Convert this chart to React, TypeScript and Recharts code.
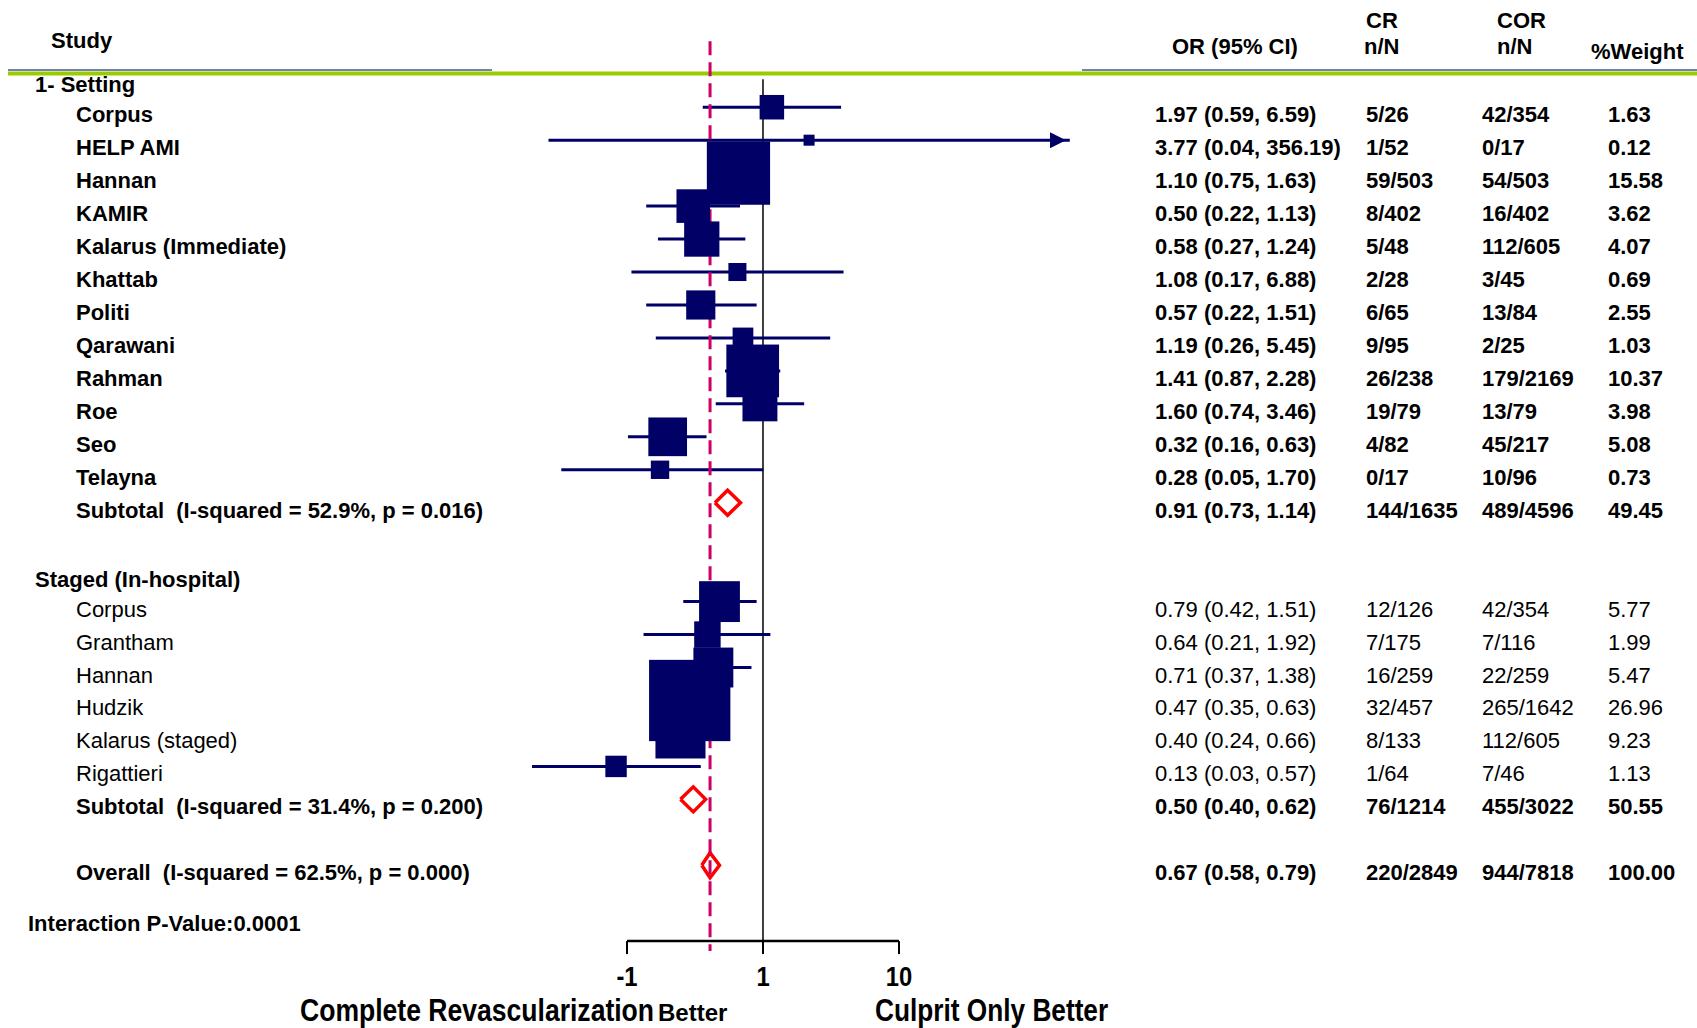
import React from 'react';
import { ComposedChart, Scatter, Line, XAxis, YAxis, ErrorBar, ReferenceLine, Customized } from 'recharts';

// values
const SETTING_STUDIES = ['Corpus', 'HELP AMI', 'Hannan', 'KAMIR', 'Kalarus (Immediate)', 'Khattab', 'Politi', 'Qarawani', 'Rahman', 'Roe', 'Seo', 'Telayna'];
const SETTING_OR = [1.97, 3.77, 1.10, 0.50, 0.58, 1.08, 0.57, 1.19, 1.41, 1.60, 0.32, 0.28];
const SETTING_LO = [0.59, 0.04, 0.75, 0.22, 0.27, 0.17, 0.22, 0.26, 0.87, 0.74, 0.16, 0.05];
const SETTING_HI = [6.59, 356.19, 1.63, 1.13, 1.24, 6.88, 1.51, 5.45, 2.28, 3.46, 0.63, 1.70];
const SETTING_CR = ['5/26', '1/52', '59/503', '8/402', '5/48', '2/28', '6/65', '9/95', '26/238', '19/79', '4/82', '0/17'];
const SETTING_COR = ['42/354', '0/17', '54/503', '16/402', '112/605', '3/45', '13/84', '2/25', '179/2169', '13/79', '45/217', '10/96'];
const SETTING_WEIGHT = [1.63, 0.12, 15.58, 3.62, 4.07, 0.69, 2.55, 1.03, 10.37, 3.98, 5.08, 0.73];

const STAGED_STUDIES = ['Corpus', 'Grantham', 'Hannan', 'Hudzik', 'Kalarus (staged)', 'Rigattieri'];
const STAGED_OR = [0.79, 0.64, 0.71, 0.47, 0.40, 0.13];
const STAGED_LO = [0.42, 0.21, 0.37, 0.35, 0.24, 0.03];
const STAGED_HI = [1.51, 1.92, 1.38, 0.63, 0.66, 0.57];
const STAGED_CR = ['12/126', '7/175', '16/259', '32/457', '8/133', '1/64'];
const STAGED_COR = ['42/354', '7/116', '22/259', '265/1642', '112/605', '7/46'];
const STAGED_WEIGHT = [5.77, 1.99, 5.47, 26.96, 9.23, 1.13];

const GROUP_HEADERS = ['1- Setting', 'Staged (In-hospital)'];
const POOLED_LABELS = [
  'Subtotal  (I-squared = 52.9%, p = 0.016)',
  'Subtotal  (I-squared = 31.4%, p = 0.200)',
  'Overall  (I-squared = 62.5%, p = 0.000)',
];
const POOLED_OR = [0.91, 0.50, 0.67];
const POOLED_LO = [0.73, 0.40, 0.58];
const POOLED_HI = [1.14, 0.62, 0.79];
const POOLED_CR = ['144/1635', '76/1214', '220/2849'];
const POOLED_COR = ['489/4596', '455/3022', '944/7818'];
const POOLED_WEIGHT = [49.45, 50.55, 100.0];

const INTERACTION_NOTE = 'Interaction P-Value:0.0001';
const AXIS_TICK_VALUES = [0.1, 1, 10];
const AXIS_TICK_LABELS = ['-1', '1', '10'];
const NULL_VALUE = 1;

// layout
const W = 1697;
const H = 1028;
const X_DOMAIN: [number, number] = [-2.523, 2.523]; // log10 OR, data panel
const TICK_DOMAIN: [number, number] = [-2.669, 2.228]; // log10, drawn axis
const Y_DOMAIN: [number, number] = [-1, 26.3];
const FONT = "'Liberation Sans', Arial, Helvetica, sans-serif";
const FS = 22;
const NAVY = '#000066';
const RED = '#FF0000';
const PINK = '#CC0066';
const DIAMOND_HALF = 0.38;

const lg = (v: number) => Math.log10(v);
const fmtCI = (o: number, l: number, h: number) => `${o.toFixed(2)} (${l.toFixed(2)}, ${h.toFixed(2)})`;

type Row = {
  y: number;
  kind: 'header' | 'study' | 'pooled' | 'note';
  label: string;
  bold: boolean;
  or?: number;
  lo?: number;
  hi?: number;
  cr?: string;
  cor?: string;
  w?: number;
};

const ROWS: Row[] = [];
let r = 0;
const addPooled = (k: number) =>
  ROWS.push({ y: r++, kind: 'pooled', label: POOLED_LABELS[k], bold: true, or: POOLED_OR[k], lo: POOLED_LO[k], hi: POOLED_HI[k], cr: POOLED_CR[k], cor: POOLED_COR[k], w: POOLED_WEIGHT[k] });

ROWS.push({ y: r++, kind: 'header', label: GROUP_HEADERS[0], bold: true });
SETTING_STUDIES.forEach((s, k) =>
  ROWS.push({ y: r++, kind: 'study', label: s, bold: true, or: SETTING_OR[k], lo: SETTING_LO[k], hi: SETTING_HI[k], cr: SETTING_CR[k], cor: SETTING_COR[k], w: SETTING_WEIGHT[k] })
);
addPooled(0);
r++;
ROWS.push({ y: r++, kind: 'header', label: GROUP_HEADERS[1], bold: true });
STAGED_STUDIES.forEach((s, k) =>
  ROWS.push({ y: r++, kind: 'study', label: s, bold: false, or: STAGED_OR[k], lo: STAGED_LO[k], hi: STAGED_HI[k], cr: STAGED_CR[k], cor: STAGED_COR[k], w: STAGED_WEIGHT[k] })
);
addPooled(1);
r++;
addPooled(2);
ROWS.push({ y: r + 0.55, kind: 'note', label: INTERACTION_NOTE, bold: true });

const STUDY_POINTS = ROWS.filter((d) => d.kind === 'study').map((d) => ({
  x: lg(d.or!),
  y: d.y,
  w: d.w,
  err: [lg(d.or!) - lg(d.lo!), lg(d.hi!) - lg(d.or!)],
}));

const ARROW_POINTS = ROWS.filter((d) => d.kind === 'study' && lg(d.hi!) > X_DOMAIN[1]).map((d) => ({ x: X_DOMAIN[1], y: d.y }));

const DIAMONDS = ROWS.filter((d) => d.kind === 'pooled').map((d) => [
  { x: lg(d.lo!), y: d.y },
  { x: lg(d.or!), y: d.y - DIAMOND_HALF },
  { x: lg(d.hi!), y: d.y },
  { x: lg(d.or!), y: d.y + DIAMOND_HALF },
  { x: lg(d.lo!), y: d.y },
]);

const BoxMark = (p: any) => {
  const w = p.payload?.w ?? 0;
  const side = 14.5 * Math.sqrt(w) + 6;
  return <rect x={p.cx - side / 2} y={p.cy - side / 2} width={side} height={side} fill={NAVY} />;
};

const ArrowMark = (p: any) => (
  <path d={`M${p.cx},${p.cy} L${p.cx - 16},${p.cy - 8} L${p.cx - 16},${p.cy + 8} Z`} fill={NAVY} />
);

const RowTick = (props: any) => {
  const { y, payload } = props;
  const row = ROWS.find((d) => Math.abs(d.y - payload.value) < 1e-6);
  if (!row) return null;
  const weight = row.bold ? 'bold' : 'normal';
  if (row.kind === 'header') {
    return (
      <text x={35} y={y + 18} fontSize={FS} fontWeight="bold" fontFamily={FONT} fill="#000">
        {row.label}
      </text>
    );
  }
  if (row.kind === 'note') {
    return (
      <text x={28} y={y + 15} fontSize={FS} fontWeight="bold" fontFamily={FONT} fill="#000">
        {row.label}
      </text>
    );
  }
  const base = y + 15;
  return (
    <g fontFamily={FONT} fontSize={FS} fontWeight={weight} fill="#000">
      <text x={76} y={base} style={{ whiteSpace: 'pre' }}>{row.label}</text>
      <text x={1155} y={base}>{fmtCI(row.or!, row.lo!, row.hi!)}</text>
      <text x={1366} y={base}>{row.cr}</text>
      <text x={1482} y={base}>{row.cor}</text>
      <text x={1608} y={base}>{row.w!.toFixed(2)}</text>
    </g>
  );
};

const AxisTick = (props: any) => {
  const { x, y, payload } = props;
  const idx = AXIS_TICK_VALUES.findIndex((v) => Math.abs(lg(v) - payload.value) < 1e-6);
  if (idx < 0) return null;
  return (
    <g transform={`translate(${x},${y + 30}) scale(0.85,1)`}>
      <text textAnchor="middle" fontSize={28} fontWeight="bold" fontFamily={FONT} fill="#000">
        {AXIS_TICK_LABELS[idx]}
      </text>
    </g>
  );
};

const Decor = () => (
  <g fontFamily={FONT} fill="#000">
    <line x1={8} x2={492} y1={70} y2={70} stroke="#7383AE" strokeWidth={2} />
    <line x1={1082} x2={W} y1={70} y2={70} stroke="#7383AE" strokeWidth={2} />
    <line x1={8} x2={W} y1={73.5} y2={73.5} stroke="#99CC00" strokeWidth={4} />
    <text x={51} y={47.5} fontSize={FS} fontWeight="bold">Study</text>
    <text x={1172} y={54} fontSize={FS} fontWeight="bold">OR (95% CI)</text>
    <text x={1366} y={28} fontSize={FS} fontWeight="bold">CR</text>
    <text x={1364} y={54} fontSize={FS} fontWeight="bold">n/N</text>
    <text x={1497} y={28} fontSize={FS} fontWeight="bold">COR</text>
    <text x={1497} y={54} fontSize={FS} fontWeight="bold">n/N</text>
    <text x={1591} y={58.5} fontSize={FS} fontWeight="bold">%Weight</text>
    <g transform="translate(300,1021) scale(0.83,1)">
      <text fontSize={32} fontWeight="bold">Complete Revascularization</text>
    </g>
    <text x={658} y={1021} fontSize={24} fontWeight="bold">Better</text>
    <g transform="translate(875,1021) scale(0.82,1)">
      <text fontSize={32} fontWeight="bold">Culprit Only Better</text>
    </g>
  </g>
);

const App: React.FC = () => {
  const overall = lg(POOLED_OR[2]);
  return (
    <div style={{ position: 'absolute', left: 0, top: 0, width: W, height: H, background: '#fff', fontFamily: FONT }}>
      <ComposedChart width={W} height={H} margin={{ top: 41.3, right: 631, bottom: 46.9, left: 399 }}>
        <Customized component={Decor} />
        <XAxis xAxisId="data" type="number" dataKey="x" domain={X_DOMAIN} allowDataOverflow hide height={0} />
        <XAxis
          xAxisId="tick"
          type="number"
          dataKey="x"
          domain={TICK_DOMAIN}
          allowDataOverflow
          ticks={AXIS_TICK_VALUES.map(lg)}
          interval={0}
          axisLine={false}
          tickLine={{ stroke: '#000', strokeWidth: 2 }}
          tickSize={13}
          height={40}
          tick={<AxisTick />}
        />
        <YAxis
          yAxisId="row"
          type="number"
          dataKey="y"
          domain={Y_DOMAIN}
          allowDataOverflow
          reversed
          width={1}
          ticks={ROWS.map((d) => d.y)}
          interval={0}
          axisLine={false}
          tickLine={false}
          tick={<RowTick />}
        />
        <ReferenceLine
          xAxisId="tick"
          yAxisId="row"
          segment={[{ x: lg(NULL_VALUE), y: 0.15 }, { x: lg(NULL_VALUE), y: Y_DOMAIN[1] }]}
          ifOverflow="visible"
          stroke="#000"
          strokeWidth={1.5}
        />
        <Scatter xAxisId="data" yAxisId="row" data={STUDY_POINTS} shape={BoxMark} isAnimationActive={false}>
          <ErrorBar
            dataKey={(p: any) => (p && p.payload ? p.payload.err : p.err)}
            direction="x"
            width={0}
            stroke={NAVY}
            strokeWidth={3}
            isAnimationActive={false}
          />
        </Scatter>
        <Scatter xAxisId="data" yAxisId="row" data={ARROW_POINTS} shape={ArrowMark} isAnimationActive={false} />
        {DIAMONDS.map((pts, k) => (
          <Line
            key={k}
            xAxisId="data"
            yAxisId="row"
            data={pts}
            dataKey="y"
            type="linear"
            stroke={RED}
            strokeWidth={3.5}
            strokeLinejoin="miter"
            dot={false}
            activeDot={false}
            isAnimationActive={false}
          />
        ))}
        <ReferenceLine
          xAxisId="data"
          yAxisId="row"
          segment={[{ x: overall, y: Y_DOMAIN[0] }, { x: overall, y: 26.6 }]}
          ifOverflow="visible"
          stroke={PINK}
          strokeWidth={3}
          strokeDasharray="14 7"
        />
        <ReferenceLine
          xAxisId="tick"
          yAxisId="row"
          segment={[{ x: lg(AXIS_TICK_VALUES[0]), y: Y_DOMAIN[1] }, { x: lg(AXIS_TICK_VALUES[2]), y: Y_DOMAIN[1] }]}
          ifOverflow="visible"
          stroke="#000"
          strokeWidth={2.5}
        />
      </ComposedChart>
    </div>
  );
};

export default App;
